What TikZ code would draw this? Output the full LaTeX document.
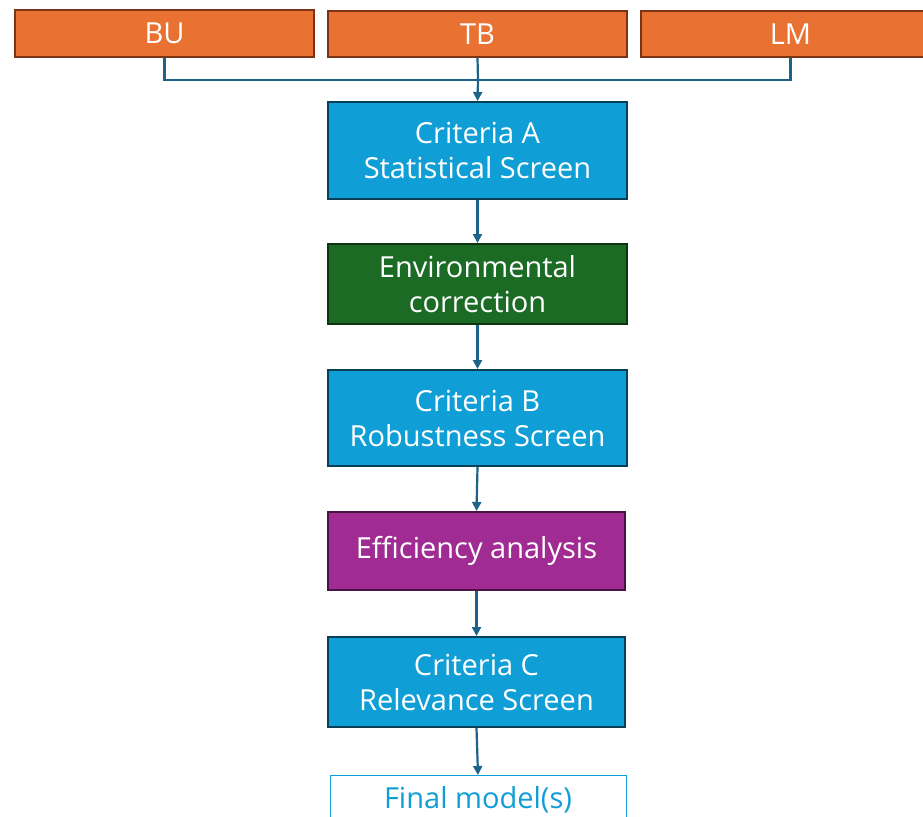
\documentclass[tikz,border=0pt]{standalone}
\usepackage{fontspec}
\setmainfont{Open Sans}
\usetikzlibrary{arrows.meta}
\definecolor{orangef}{HTML}{E97132}
\definecolor{oranged}{HTML}{7A3514}
\definecolor{bluef}{HTML}{0F9ED5}
\definecolor{blued}{HTML}{0A3F58}
\definecolor{greenf}{HTML}{1B6B25}
\definecolor{greend}{HTML}{0E3512}
\definecolor{purplef}{HTML}{A02B93}
\definecolor{purpled}{HTML}{4A1244}
\definecolor{linec}{HTML}{1C6289}
\begin{document}
\begin{tikzpicture}[x=1pt,y=-1pt,
  box/.style={draw, line width=2pt, text=white, font=\fontsize{29}{35}\selectfont, align=center, inner sep=0pt},
  obox/.style={box, fill=orangef, draw=oranged},
  bbox/.style={box, fill=bluef, draw=blued},
  gbox/.style={box, fill=greenf, draw=greend},
  pbox/.style={box, fill=purplef, draw=purpled},
  conn/.style={draw=linec, line width=2.2pt, -{Triangle[length=9pt,width=9pt]}},
  plain/.style={draw=linec, line width=2.2pt}]
\useasboundingbox (0,0) rectangle (923,816);
\node[obox, minimum width=299pt, minimum height=47pt] (bu) at (164.5,33.5) {BU};
\node[obox, minimum width=299pt, minimum height=46pt] (tb) at (477.5,34) {TB};
\node[obox, minimum width=299pt, minimum height=46pt] (lm) at (790.5,34) {LM};
\node[bbox, minimum width=299pt, minimum height=97pt] (ca) at (477.5,150.5) {Criteria A\\Statistical Screen};
\node[gbox, minimum width=299pt, minimum height=80pt] (env) at (477.5,284) {Environmental\\correction};
\node[bbox, minimum width=299pt, minimum height=96pt] (cb) at (477.5,418) {Criteria B\\Robustness Screen};
\node[pbox, minimum width=297pt, minimum height=78pt] (eff) at (476.5,551) {Efficiency analysis};
\node[bbox, minimum width=297pt, minimum height=90pt] (cc) at (476.5,682) {Criteria C\\Relevance Screen};
\node[box, draw=bluef, line width=1pt, fill=white, text=bluef, minimum width=296pt, minimum height=60pt, anchor=north] (fin) at (478,775) {\raisebox{-3pt}[0pt][0pt]{Final model(s)}};
\coordinate (j) at (478,80);
\draw[plain] (bu.south) |- (j);
\draw[plain] (lm.south) |- (j);
\draw[plain] (tb.south) -- (j);
\draw[conn] (j) -- (ca.north);
\draw[conn] (ca.south) -- (env.north);
\draw[conn] (env.south) -- (cb.north);
\draw[conn] (cb.south) -- (eff.north);
\draw[conn] (eff.south) -- (cc.north);
\draw[conn] (cc.south) -- (fin.north);
\end{tikzpicture}
\end{document}
